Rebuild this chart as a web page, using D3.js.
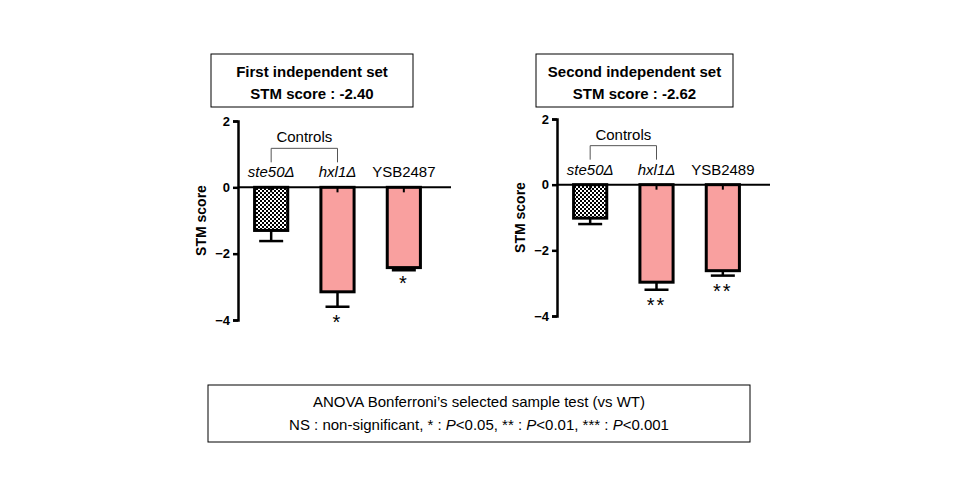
<!DOCTYPE html><html><head><meta charset="utf-8"><script src="https://d3js.org/d3.v7.min.js"></script>
<style>body{margin:0;background:#fff}</style></head><body><svg width="960" height="500"></svg><script>
const categories=["ste50Δ","hxl1Δ","YSB2487"];
const categories2=["ste50Δ","hxl1Δ","YSB2489"];
const values1=[-1.3,-3.15,-2.42], errors1=[0.32,0.45,0.08], stars1=["","*","*"];
const values2=[-1.02,-2.97,-2.62], errors2=[0.18,0.23,0.15], stars2=["","**","**"];
const yTicks=[2,0,-2,-4];
const titles=[["First independent set","STM score : -2.40"],["Second independent set","STM score : -2.62"]];
const svg=d3.select("svg");
const defs=svg.append("defs");
const pat=defs.append("pattern").attr("id","chk").attr("width",4).attr("height",4).attr("patternUnits","userSpaceOnUse");
pat.append("rect").attr("width",4).attr("height",4).attr("fill","#fff");
pat.append("rect").attr("width",2).attr("height",2).attr("fill","#000");
pat.append("rect").attr("x",2).attr("y",2).attr("width",2).attr("height",2).attr("fill","#000");
function panel(ax,top,bot,x0,x1,cats,vals,errs,stars,title,bx,bw){
  const y=d3.scaleLinear().domain([-4,2]).range([bot,top]);
  const x=d3.scaleBand().domain(cats).range([x0,x1]).paddingInner(0.5).paddingOuter(0.25);
  const g=svg.append("g");
  g.append("rect").attr("x",bx).attr("y",54).attr("width",bw).attr("height",53).attr("fill","#fff").attr("stroke","#000");
  title.forEach((t,i)=>g.append("text").attr("x",bx+bw/2).attr("y",77+i*22).attr("text-anchor","middle").attr("font-family","Liberation Sans, Arial").attr("font-weight","bold").attr("font-size",15).text(t));
  const a=g.append("g").attr("transform",`translate(${ax},0)`).call(d3.axisLeft(y).tickValues(yTicks).tickSize(5).tickFormat(d3.format("d")));
  a.select(".domain").attr("stroke-width",2.5);a.selectAll("line").attr("stroke-width",2.5);
  a.selectAll("text").attr("font-family","Liberation Sans, Arial").attr("font-weight","bold").attr("font-size",13).attr("fill","#000");
  g.append("text").attr("transform",`translate(${ax-32},${(top+bot)/2}) rotate(-90)`).attr("text-anchor","middle").attr("font-family","Liberation Sans, Arial").attr("font-weight","bold").attr("font-size",14).text("STM score");
  g.append("line").attr("x1",ax).attr("x2",x1+14).attr("y1",y(0)).attr("y2",y(0)).attr("stroke","#000").attr("stroke-width",2);
  cats.forEach((c,i)=>{
    const cx=x(c)+x.bandwidth()/2, v=vals[i];
    g.append("line").attr("x1",cx).attr("x2",cx).attr("y1",y(0)).attr("y2",y(v-errs[i])).attr("stroke","#000").attr("stroke-width",2.5);
    g.append("line").attr("x1",cx-12).attr("x2",cx+12).attr("y1",y(v-errs[i])).attr("y2",y(v-errs[i])).attr("stroke","#000").attr("stroke-width",2.5);
    g.append("rect").attr("x",x(c)).attr("y",y(0)).attr("width",x.bandwidth()).attr("height",y(v)-y(0)).attr("fill",i==0?"url(#chk)":"#f9a09f").attr("stroke","#000").attr("stroke-width",3);
    g.append("line").attr("x1",cx).attr("x2",cx).attr("y1",y(0)).attr("y2",y(0)+5).attr("stroke","#000").attr("stroke-width",2);
    g.append("text").attr("x",cx).attr("y",y(0)-10).attr("text-anchor","middle").attr("font-family","Liberation Sans, Arial").attr("font-size",15).attr("font-style",i<2?"italic":"normal").text(c);
    if(stars[i]) g.append("text").attr("x",cx).attr("y",y(v-errs[i])+(i==2&&stars[i]=="*"?20:22)).attr("text-anchor","middle").attr("font-family","Liberation Sans, Arial").attr("font-size",20).attr("letter-spacing",2).text(stars[i]);
  });
  const c0=x(cats[0])+x.bandwidth()/2, c1=x(cats[1])+x.bandwidth()/2;
  g.append("path").attr("d",`M${c0},${y(0)-25}V${y(0)-39}H${c1}V${y(0)-25}`).attr("fill","none").attr("stroke","#555");
  g.append("text").attr("x",(c0+c1)/2).attr("y",y(0)-45).attr("text-anchor","middle").attr("font-family","Liberation Sans, Arial").attr("font-size",15).text("Controls");
}
panel(238,121,320,238,437,categories,values1,errors1,stars1,titles[0],211,202);
panel(557,119,316,557,756,categories2,values2,errors2,stars2,titles[1],536,197);
svg.append("rect").attr("x",208).attr("y",385).attr("width",542).attr("height",57).attr("fill","#fff").attr("stroke","#000");
svg.append("text").attr("x",479).attr("y",407).attr("text-anchor","middle").attr("font-family","Liberation Sans, Arial").attr("font-size",15).text("ANOVA Bonferroni’s selected sample test (vs WT)");
const t=svg.append("text").attr("x",479).attr("y",430).attr("text-anchor","middle").attr("font-family","Liberation Sans, Arial").attr("font-size",15);
[["NS : non-significant, * : ",0],["P",1],["<0.05, ** : ",0],["P",1],["<0.01, *** : ",0],["P",1],["<0.001",0]].forEach(([s,it])=>t.append("tspan").attr("font-style",it?"italic":"normal").text(s));
</script></body></html>
